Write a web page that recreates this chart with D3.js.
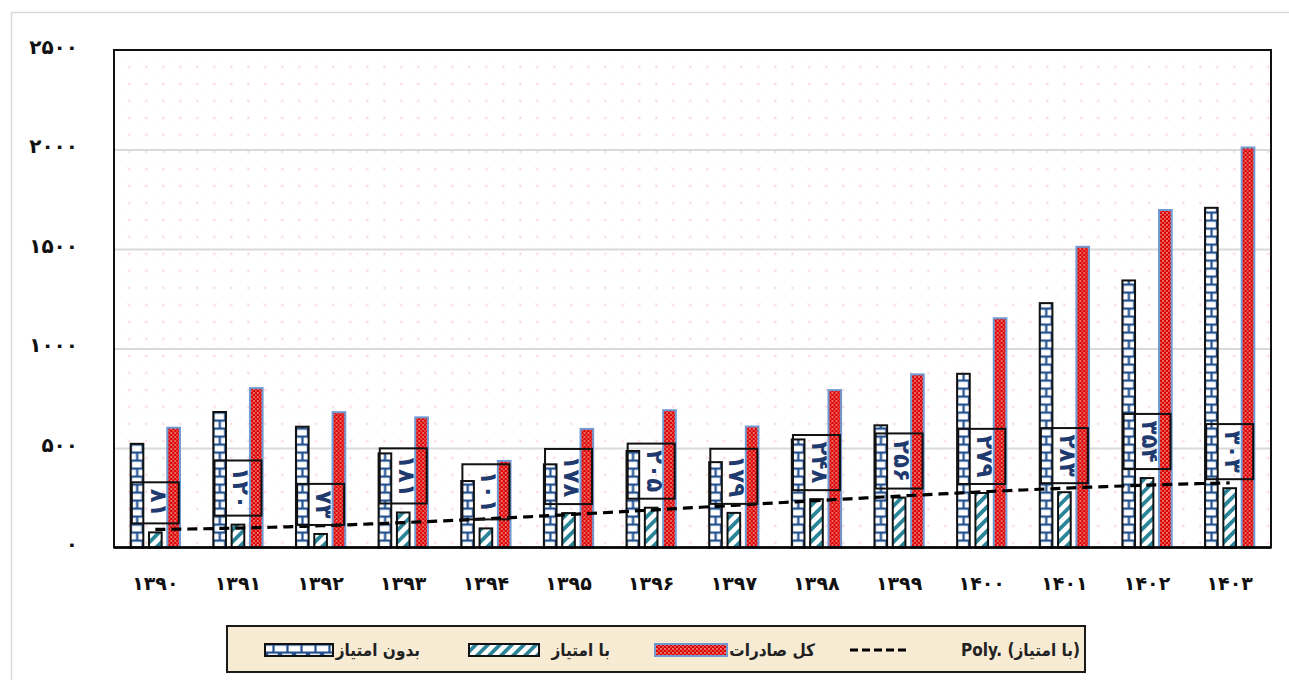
<!DOCTYPE html>
<html><head><meta charset="utf-8">
<script src="https://cdn.jsdelivr.net/npm/d3@7"></script>
<style>html,body{margin:0;padding:0;background:#fff;overflow:hidden}svg{display:block}</style>
</head><body><svg id="c" width="1289" height="680"></svg>
<script>
// ---- data ----
const years = ["۱۳۹۰","۱۳۹۱","۱۳۹۲","۱۳۹۳","۱۳۹۴","۱۳۹۵","۱۳۹۶","۱۳۹۷","۱۳۹۸","۱۳۹۹","۱۴۰۰","۱۴۰۱","۱۴۰۲","۱۴۰۳"];
const withoutPriv = [526, 686, 612, 478, 339, 423, 490, 434, 548, 619, 878, 1233, 1347, 1712];
const withPriv    = [81, 120, 73, 181, 101, 178, 205, 179, 248, 256, 279, 283, 354, 303];
const totalExports= [607, 806, 685, 659, 440, 601, 695, 613, 796, 875, 1157, 1516, 1701, 2015];
const yTicks = [0, 500, 1000, 1500, 2000, 2500];
const seriesNames = ["بدون امتیاز", "با امتیاز", "کل صادرات"];
const trendName = "Poly. (با امتیاز)";

const faDigits = "۰۱۲۳۴۵۶۷۸۹";
const toFa = n => String(n).replace(/[0-9]/g, d => faDigits[+d]);

// ---- layout ----
const M = {left:114, right:1271, top:50, bottom:547.5};
const svg = d3.select("#c");
const FONT = "'DejaVu Sans', sans-serif";
const FONTC = "'DejaVu Sans Condensed','DejaVu Sans', sans-serif";

svg.append("rect").attr("x",11.5).attr("y",12.5).attr("width",1300).attr("height",700)
  .attr("fill","#fff").attr("stroke","#d9d9d9").attr("stroke-width",1.5);

const defs = svg.append("defs");
// background dots
const bg = defs.append("pattern").attr("id","bgdots").attr("patternUnits","userSpaceOnUse")
  .attr("width",17).attr("height",17).attr("x",M.left+6.7).attr("y",M.top+8.3);
bg.append("rect").attr("x",0).attr("y",0).attr("width",1).attr("height",1).attr("fill","#fbe3e3");
bg.append("rect").attr("x",7.6).attr("y",7.6).attr("width",2).attr("height",2).attr("fill","#f6cdd0");
// brick
const BC = "#22508e";
const br = defs.append("pattern").attr("id","brick").attr("patternUnits","userSpaceOnUse")
  .attr("width",14).attr("height",16).attr("x",0).attr("y",M.bottom);
br.append("rect").attr("width",14).attr("height",16).attr("fill","#fff");
br.append("rect").attr("x",0).attr("y",0).attr("width",14).attr("height",2.2).attr("fill",BC);
br.append("rect").attr("x",0).attr("y",8).attr("width",14).attr("height",2.2).attr("fill",BC);
br.append("rect").attr("x",6.4).attr("y",0).attr("width",2.2).attr("height",8).attr("fill",BC);
br.append("rect").attr("x",0).attr("y",8).attr("width",2.2).attr("height",8).attr("fill",BC);
br.append("rect").attr("x",11.8).attr("y",8).attr("width",2.2).attr("height",8).attr("fill",BC);
// stripes
const st = defs.append("pattern").attr("id","stripe").attr("patternUnits","userSpaceOnUse")
  .attr("width",8.5).attr("height",8.5).attr("patternTransform","rotate(45)");
st.append("rect").attr("width",8.5).attr("height",8.5).attr("fill","#fff");
st.append("rect").attr("x",0).attr("width",3.8).attr("height",8.5).attr("fill","#2a8598");
// red confetti
const rd = defs.append("pattern").attr("id","reddots").attr("patternUnits","userSpaceOnUse")
  .attr("width",4).attr("height",4);
rd.append("rect").attr("width",4).attr("height",4).attr("fill","#dc0000");
rd.append("rect").attr("x",0.3).attr("y",0.3).attr("width",1.3).attr("height",1.3).attr("fill","#fff");
rd.append("rect").attr("x",2.3).attr("y",2.3).attr("width",1.2).attr("height",1.2).attr("fill","#ffcccc");

// ---- scales ----
const x0 = d3.scaleBand().domain(years).range([M.left, M.right]).padding(0);
const x1 = d3.scaleBand().domain([0,1,2]).range([-25.65, 25.65]).paddingInner(0.2).paddingOuter(0);
const y = d3.scaleLinear().domain([0, 2500]).range([M.bottom, M.top]);
const cx = d => x0(d) + x0.bandwidth()/2;

// plot background
svg.append("rect").attr("x",M.left).attr("y",M.top).attr("width",M.right-M.left).attr("height",M.bottom-M.top)
  .attr("fill","url(#bgdots)");

// gridlines
const grid = svg.append("g").attr("transform",`translate(${M.left},0)`)
  .call(d3.axisLeft(y).tickValues(yTicks.filter(v=>v>0 && v<2500)).tickSize(-(M.right-M.left)).tickFormat(""));
grid.select(".domain").remove();
grid.selectAll("line").attr("stroke","#d9d9d9").attr("stroke-width",2);

// y axis labels
const ya = svg.append("g").attr("transform",`translate(${M.left},0)`)
  .call(d3.axisLeft(y).tickValues(yTicks).tickSize(0).tickPadding(36).tickFormat(toFa));
ya.select(".domain").remove();
ya.selectAll("text").attr("font-family",FONT).attr("font-weight","bold").attr("font-size",20)
  .attr("fill","#111").attr("dy","0.15em");

// x axis labels
const xa = svg.append("g").attr("transform",`translate(0,${M.bottom})`)
  .call(d3.axisBottom(x0).tickSize(0));
xa.select(".domain").remove();
xa.selectAll("text").attr("font-family",FONT).attr("font-weight","bold").attr("font-size",19)
  .attr("fill","#111").attr("y",36).attr("dy","0.35em");

// ---- bars ----
const seriesVals = [withoutPriv, withPriv, totalExports];
const fills = ["url(#brick)","url(#stripe)","url(#reddots)"];
const strokes = ["#111","#111","#6f9ad2"];
const bw = x1.bandwidth();
years.forEach((yr,i) => {
  const g = svg.append("g").attr("transform",`translate(${cx(yr)},0)`);
  seriesVals.forEach((vals,s) => {
    const gg = g.append("g").attr("transform",`translate(${x1(s)},0)`);
    const v = vals[i];
    gg.append("rect").attr("x",1).attr("width",bw-2)
      .attr("y",y(v)+1).attr("height",M.bottom - y(v) - 1)
      .attr("fill",fills[s]).attr("stroke",strokes[s]).attr("stroke-width",2);
  });
});

// ---- polynomial (order 3) trendline of withPriv ----
function polyfit(xs, ys, deg){
  const n = deg+1;
  const A = Array.from({length:n},()=>Array(n+1).fill(0));
  xs.forEach((xv,k)=>{
    for(let r=0;r<n;r++){
      for(let c=0;c<n;c++) A[r][c]+=Math.pow(xv,r+c);
      A[r][n]+=ys[k]*Math.pow(xv,r);
    }
  });
  for(let p=0;p<n;p++){
    let mx=p; for(let r=p+1;r<n;r++) if(Math.abs(A[r][p])>Math.abs(A[mx][p])) mx=r;
    [A[p],A[mx]]=[A[mx],A[p]];
    for(let r=0;r<n;r++){ if(r===p) continue; const f=A[r][p]/A[p][p]; for(let c=p;c<=n;c++) A[r][c]-=f*A[p][c]; }
  }
  return A.map((row,r)=>row[n]/row[r]);
}
const idx = years.map((_,i)=>i+1);
const coef = polyfit(idx, withPriv, 3);
const pf = t => coef.reduce((s,c,k)=>s+c*Math.pow(t,k),0);
const step = x0.step();
const tp = d3.range(1, years.length+0.001, 0.1).map(t => [cx(years[0]) + (t-1)*step, y(pf(t))]);
svg.append("path").attr("d", d3.line()(tp)).attr("fill","none")
  .attr("stroke","#000").attr("stroke-width",3.2).attr("stroke-dasharray","10,6");

// ---- data labels (rotated) ----
years.forEach((yr,i) => {
  const v = withPriv[i];
  const g = svg.append("g");
  const t = g.append("text").text(toFa(v)).attr("font-family",FONT).attr("font-weight","bold")
    .attr("font-size",23).attr("fill","#1f3a6e").attr("text-anchor","middle");
  const len = t.node().getComputedTextLength();
  const h = len + 13, w = 47;
  const bottom = y(v) - 8;
  const ccx = cx(yr), ccy = bottom - h/2;
  g.insert("rect","text").attr("x",ccx-w/2).attr("y",bottom-h).attr("width",w).attr("height",h)
    .attr("fill","none").attr("stroke","#111").attr("stroke-width",2);
  t.attr("transform",`translate(${ccx},${ccy}) rotate(90)`).attr("dy","0.2em");
});

// axis frame
svg.append("rect").attr("x",M.left).attr("y",M.top).attr("width",M.right-M.left).attr("height",M.bottom-M.top)
  .attr("fill","none").attr("stroke","#111").attr("stroke-width",2);
svg.append("line").attr("x1",M.left).attr("x2",M.right).attr("y1",M.bottom).attr("y2",M.bottom)
  .attr("stroke","#000").attr("stroke-width",2.5);

// ---- legend ----
const lg = svg.append("g");
lg.append("rect").attr("x",227).attr("y",626).attr("width",858).attr("height",46)
  .attr("fill","#f7ebd4").attr("stroke","#1a1a1a").attr("stroke-width",2);
const legItems = [
  {sx:265, sw:68, tx:420, fill:fills[0], stroke:strokes[0], name:seriesNames[0]},
  {sx:469, sw:70, tx:610, fill:fills[1], stroke:strokes[1], name:seriesNames[1]},
  {sx:655, sw:72, tx:815, fill:fills[2], stroke:strokes[2], name:seriesNames[2]}
];
legItems.forEach(it=>{
  lg.append("rect").attr("x",it.sx).attr("y",644).attr("width",it.sw).attr("height",12)
    .attr("fill",it.fill).attr("stroke",it.stroke).attr("stroke-width",2);
  lg.append("text").attr("x",it.tx).attr("y",650).attr("dy","0.35em").attr("text-anchor","end")
    .attr("font-family",FONTC).attr("font-weight","bold").attr("font-size",17).attr("fill","#222").text(it.name);
});
lg.append("line").attr("x1",850).attr("x2",906).attr("y1",650).attr("y2",650)
  .attr("stroke","#000").attr("stroke-width",3).attr("stroke-dasharray","8,4");
lg.append("text").attr("x",1080).attr("y",650).attr("dy","0.35em").attr("text-anchor","end")
  .attr("font-family",FONTC).attr("font-weight","bold").attr("font-size",17).attr("fill","#222").text(trendName);
</script></body></html>
